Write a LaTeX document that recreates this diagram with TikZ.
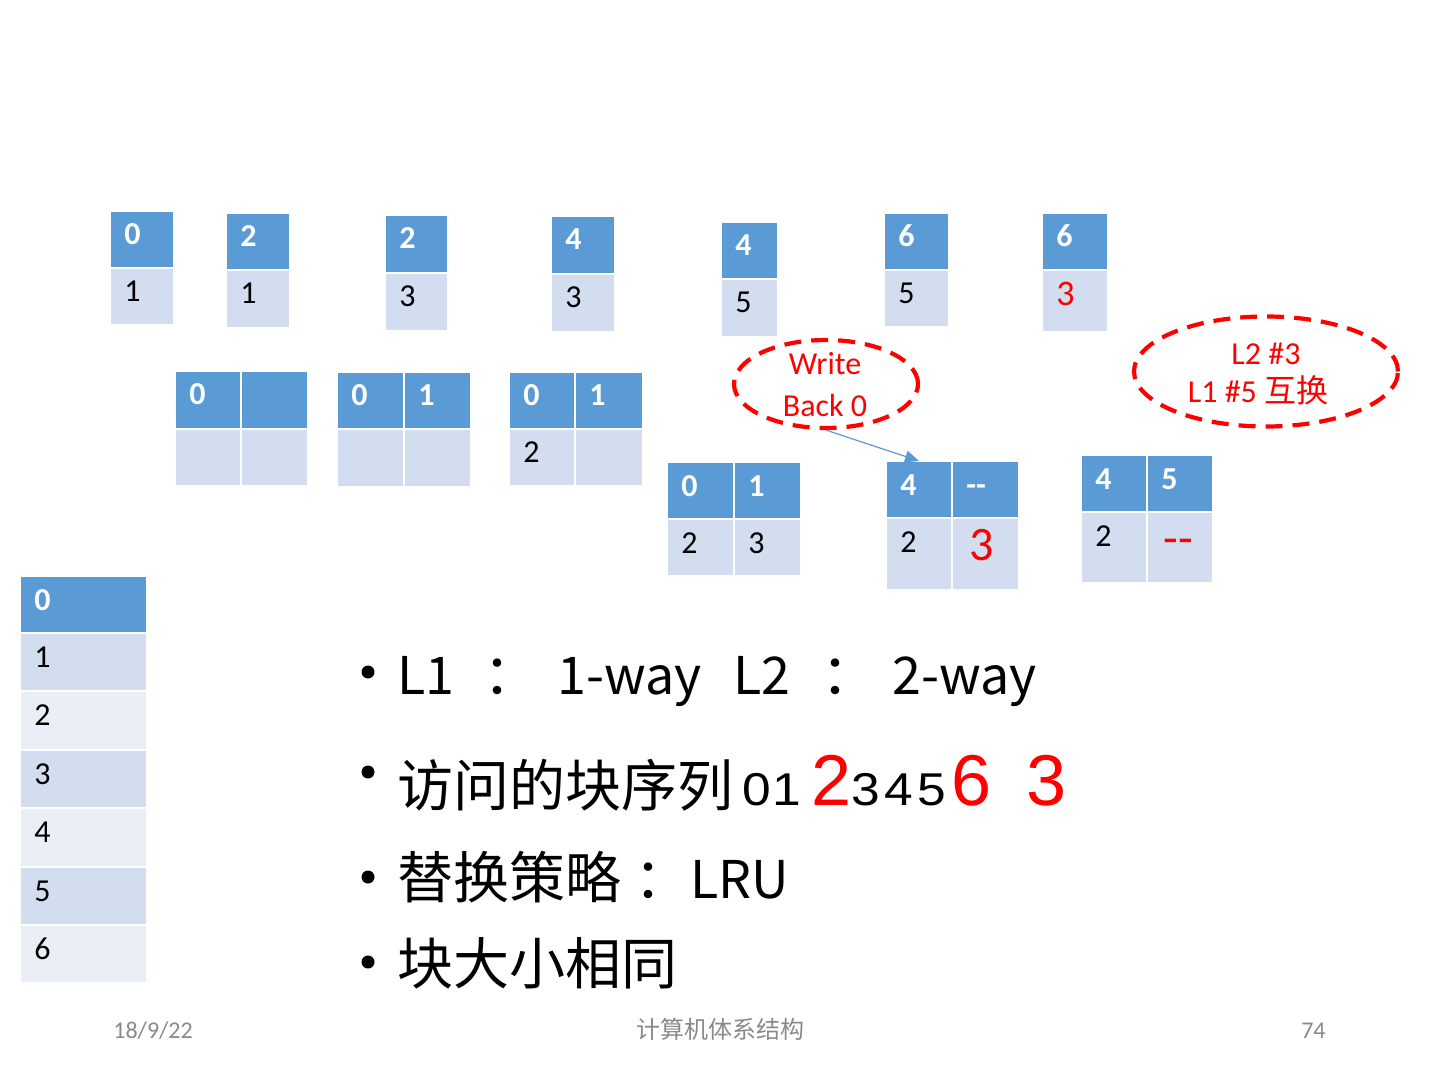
\documentclass[tikz,border=0pt]{standalone}
\usepackage{fontspec}
\usepackage{graphicx}
\setmainfont{Carlito}[Numbers=Lining]
\newfontfamily\cjk{Noto Sans CJK SC}
\newfontfamily\arialf{Liberation Sans}
\newfontfamily\digf{Liberation Sans}
\usetikzlibrary{fit,arrows.meta,shapes.geometric}
\definecolor{hdr}{HTML}{5B9BD5}
\definecolor{bandA}{HTML}{D2DEEF}
\definecolor{bandB}{HTML}{EAEFF7}
\definecolor{redc}{HTML}{FF0000}
\definecolor{footc}{HTML}{898989}
\definecolor{arrc}{HTML}{5B9BD5}
\newcommand\hdrtx{\color{white}\bfseries}
\newcommand\widedig[1]{\scalebox{1.12}[1]{#1}}
\newcommand\tc[7]{%
  \node[cellbg, fill=#6, fit={(#2,#3) (#4,#5)}] (#1) {};
  \path (#1.north west) ++(14,34) node[celltxt] (#1t) {#7};}
\tikzset{
  cellbg/.style={draw=white, line width=1pt, inner sep=0pt, outer sep=0pt},
  celltxt/.style={anchor=base west, inner sep=0pt, font=\fontsize{16}{19}\selectfont},
  ovalnode/.style={ellipse, draw=redc, line width=2.1pt, dash pattern=on 8.5pt off 5pt, inner sep=0pt},
  ovaltxt/.style={anchor=base, inner sep=0pt, text=redc, font=\fontsize{16}{19}\selectfont},
  bt/.style={anchor=base west, inner sep=0pt, font=\cjk\fontsize{28}{34}\selectfont},
  btl/.style={anchor=base west, inner sep=0pt, font=\cjk\fontsize{26}{32}\selectfont},
  bdig/.style={anchor=base west, inner sep=0pt, font=\digf\fontsize{23}{28}\selectfont},
  rdig/.style={anchor=base west, inner sep=0pt, text=redc, font=\arialf\fontsize{36}{43}\selectfont},
  bul/.style={circle, fill=black, inner sep=0pt, minimum size=6.5pt},
  foot/.style={inner sep=0pt, text=footc, font=\fontsize{12}{14}\selectfont},
  arr/.style={draw=arrc, line width=0.6pt, -{Triangle[length=7pt,width=6pt]}}
}
\begin{document}
\begin{tikzpicture}[x=0.5pt,y=-0.5pt]
\useasboundingbox (0,0) rectangle (1440,1080);
% ---- top row: L1 (1-way) ----
\tc{t1h}{110}{211}{174}{268}{hdr}{\hdrtx 0}
\tc{t1b}{110}{268}{174}{325}{bandA}{1}
\tc{t2h}{226}{213}{290}{270}{hdr}{\hdrtx 2}
\tc{t2b}{226}{270}{290}{328}{bandA}{1}
\tc{t3h}{385}{215}{448}{273}{hdr}{\hdrtx 2}
\tc{t3b}{385}{273}{448}{331}{bandA}{3}
\tc{t4h}{551}{216}{615}{274}{hdr}{\hdrtx 4}
\tc{t4b}{551}{274}{615}{332}{bandA}{3}
\tc{t5h}{721}{222}{778}{279}{hdr}{\hdrtx 4}
\tc{t5b}{721}{279}{778}{337}{bandA}{5}
\tc{t6h}{884}{213}{949}{270}{hdr}{\hdrtx 6}
\tc{t6b}{884}{270}{949}{327}{bandA}{5}
\tc{t7h}{1042}{213}{1108}{270}{hdr}{\hdrtx 6}
\tc{t7b}{1042}{270}{1108}{332}{bandA}{}
\path (t7b.north west) ++(14,36) node[celltxt, text=redc, font=\fontsize{18}{22}\selectfont] (t7r) {3};
% ---- second row: L2 (2-way) ----
\tc{ah1}{175}{371}{241}{429}{hdr}{\hdrtx 0}
\tc{ah2}{241}{371}{308}{429}{hdr}{}
\tc{ab1}{175}{429}{241}{486}{bandA}{}
\tc{ab2}{241}{429}{308}{486}{bandA}{}
\tc{bh1}{337}{372}{404}{429}{hdr}{\hdrtx 0}
\tc{bh2}{404}{372}{471}{429}{hdr}{\hdrtx 1}
\tc{bb1}{337}{429}{404}{487}{bandA}{}
\tc{bb2}{404}{429}{471}{487}{bandA}{}
\tc{ch1}{509}{372}{575}{429}{hdr}{\hdrtx 0}
\tc{ch2}{575}{372}{643}{429}{hdr}{\hdrtx 1}
\tc{cb1}{509}{429}{575}{486}{bandA}{2}
\tc{cb2}{575}{429}{643}{486}{bandA}{}
\tc{dh1}{667}{462}{734}{519}{hdr}{\hdrtx 0}
\tc{dh2}{734}{462}{801}{519}{hdr}{\hdrtx 1}
\tc{db1}{667}{519}{734}{576}{bandA}{2}
\tc{db2}{734}{519}{801}{576}{bandA}{3}
\tc{eh1}{886}{461}{952}{518}{hdr}{\hdrtx 4}
\tc{eh2}{952}{461}{1019}{518}{hdr}{\hdrtx -{}-}
\tc{eb1}{886}{518}{952}{590}{bandA}{2}
\tc{eb2}{952}{518}{1019}{590}{bandA}{}
\path (eb2.north west) ++(17,42) node[celltxt, text=redc, font=\fontsize{24}{29}\selectfont] (eb2r) {3};
\tc{fh1}{1081}{455}{1147}{512}{hdr}{\hdrtx 4}
\tc{fh2}{1147}{455}{1213}{512}{hdr}{\hdrtx 5}
\tc{fb1}{1081}{512}{1147}{583}{bandA}{2}
\tc{fb2}{1147}{512}{1213}{583}{bandA}{}
\path (fb2.north west) ++(16,42) node[celltxt, text=redc, font=\fontsize{24}{29}\selectfont] (fb2r) {-{}-};
% ---- memory column ----
\tc{m0}{20}{576}{147}{633}{hdr}{\hdrtx 0}
\tc{m1}{20}{633}{147}{691}{bandA}{1}
\tc{m2}{20}{691}{147}{750}{bandB}{2}
\tc{m3}{20}{750}{147}{808}{bandA}{3}
\tc{m4}{20}{808}{147}{867}{bandB}{4}
\tc{m5}{20}{867}{147}{925}{bandA}{5}
\tc{m6}{20}{925}{147}{983}{bandB}{6}
% ---- ovals ----
\node[ovalnode, minimum width=92pt, minimum height=44pt] (wb) at (826,384) {};
\node[ovaltxt] (wb1) at (825,375) {Write};
\node[ovaltxt] (wb2) at (825,417) {Back 0};
\draw[arr] (wb.south) -- (eh1.north);
\node[ovalnode, minimum width=132pt, minimum height=55pt] (sw) at (1266,371.5) {};
\node[ovaltxt] (sw1) at (1266,365) {L2 \#3};
\node[ovaltxt] (sw2) at (1258,403) {L1 \#5 {\cjk 互换}};
% ---- bullets ----
\node[bul] (b1) at (368,672) {};
\node[bul] (b2) at (368,772) {};
\node[bul] (b3) at (368,877) {};
\node[bul] (b4) at (368,962) {};
\node[btl] (l1a) at (397,694) {L1};
\node[bt] (l1b) at (483,694) {：};
\node[btl] (l1c) at (557,694) {1-way};
\node[btl] (l1d) at (733,694) {L2};
\node[bt] (l1e) at (821,694) {：};
\node[btl] (l1f) at (892,694) {2-way};
\node[bt] (l2a) at (397,806) {访问的块序列};
\node[bdig] (d0) at (742,805) {\widedig{0}};
\node[bdig] (d1) at (772,805) {\widedig{1}};
\node[rdig] (d2) at (811,805) {2};
\node[bdig] (d3) at (851,805) {\widedig{3}};
\node[bdig] (d4) at (884,805) {\widedig{4}};
\node[bdig] (d5) at (917,805) {\widedig{5}};
\node[rdig] (d6) at (951,805) {6};
\node[rdig] (d7) at (1026,805) {3};
\node[bt] (l3a) at (397,898) {替换策略};
\node[bt] (l3b) at (634,898) {：};
\node[btl] (l3c) at (690,898) {LRU};
\node[bt] (l4a) at (397,984) {块大小相同};
% ---- footer ----
\node[foot, anchor=base west] (fdate) at (113,1038) {18/9/22};
\node[foot, anchor=base] (ftitle) at (720,1038) {\cjk 计算机体系结构};
\node[foot, anchor=base east] (fpage) at (1326,1038) {74};
\end{tikzpicture}
\end{document}
